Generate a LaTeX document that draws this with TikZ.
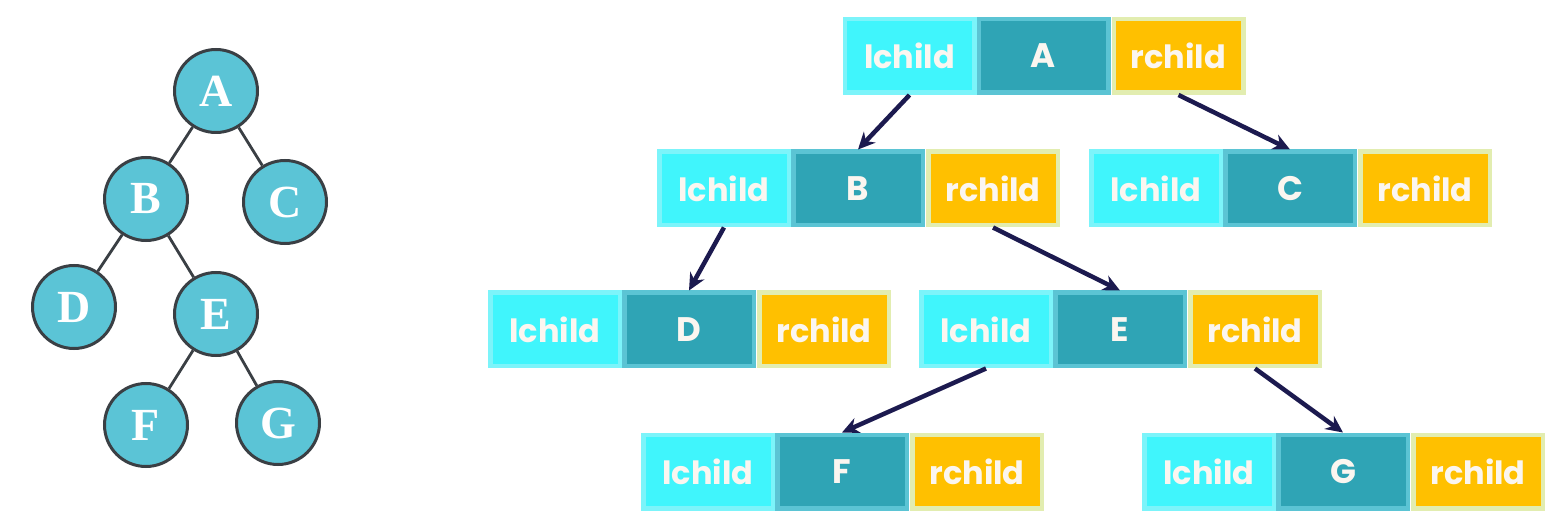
\documentclass[tikz,border=0pt]{standalone}
\usepackage{fontspec}
\setmainfont{Poppins}
\newfontfamily\treefont{Liberation Serif}
\usetikzlibrary{arrows.meta}
\definecolor{lfill}{HTML}{40F5FC}
\definecolor{lbord}{HTML}{7CF4FA}
\definecolor{dfill}{HTML}{2FA4B5}
\definecolor{dbord}{HTML}{5BC4D4}
\definecolor{rfill}{HTML}{FFC000}
\definecolor{rbord}{HTML}{E2EDB0}
\definecolor{txt}{HTML}{FBF6F0}
\definecolor{circfill}{HTML}{5BC4D6}
\definecolor{circbord}{HTML}{3A3F44}
\definecolor{arrowc}{HTML}{1C1A4F}
\tikzset{
  cell/.style={rectangle, minimum width=129.5pt, minimum height=73.5pt, line width=4.5pt, inner sep=0pt,
    text=txt, font=\fontsize{32}{36}\selectfont\bfseries},
  lcell/.style={cell, fill=lfill, draw=lbord},
  dcell/.style={cell, fill=dfill, draw=dbord, font=\fontsize{34}{38}\selectfont\bfseries},
  rcell/.style={cell, fill=rfill, draw=rbord},
  tnode/.style={circle, minimum size=83pt, inner sep=0pt, fill=circfill, draw=circbord, line width=3pt,
    text=white, font=\treefont\fontsize{46}{50}\selectfont\bfseries},
  tedge/.style={draw=circbord, line width=2.8pt},
  ptr/.style={draw=arrowc, line width=4.5pt, -{Stealth[length=17pt,width=16pt]}}
}
\newcommand{\recordrow}[4]{%
  \node[lcell] (#1l) at (#2-134,#3) {lchild};
  \node[rcell] (#1r) at (#2+135,#3) {rchild};
  \node[dcell] (#1d) at (#2,#3) {#4};
}
\begin{document}
\begin{tikzpicture}[x=1pt,y=-1pt]
\useasboundingbox (0,0) rectangle (1567,521);
% left tree
\node[tnode] (A) at (216,91) {A};
\node[tnode] (B) at (146,199) {B};
\node[tnode] (C) at (285,202) {C};
\node[tnode] (D) at (74,307) {D};
\node[tnode] (E) at (216,314) {E};
\node[tnode] (F) at (146,425) {F};
\node[tnode] (G) at (278,423) {G};
\draw[tedge] (A) -- (B);
\draw[tedge] (A) -- (C);
\draw[tedge] (B) -- (D);
\draw[tedge] (B) -- (E);
\draw[tedge] (E) -- (F);
\draw[tedge] (E) -- (G);
% records
\recordrow{RA}{1043.5}{56}{A}
\recordrow{RB}{858}{188.5}{B}
\recordrow{RC}{1290}{188.5}{C}
\recordrow{RD}{689}{329.5}{D}
\recordrow{RE}{1120}{329.5}{E}
\recordrow{RF}{842}{471.5}{F}
\recordrow{RG}{1343}{471.5}{G}
% pointers
\draw[ptr] (RAl.south) -- (RBd.north);
\draw[ptr] (RAr.south) -- (RCd.north);
\draw[ptr] (RBl.south) -- (RDd.north);
\draw[ptr] (RBr.south) -- (REd.north);
\draw[ptr] (REl.south) -- (RFd.north);
\draw[ptr] (REr.south) -- (RGd.north);
\end{tikzpicture}
\end{document}
